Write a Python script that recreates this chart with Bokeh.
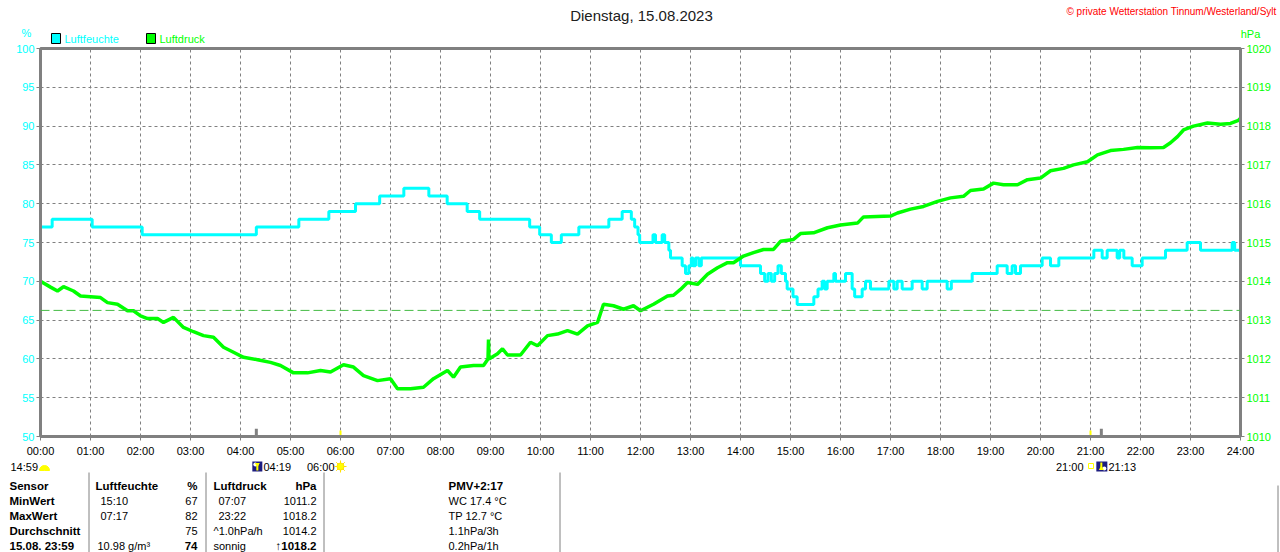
from bokeh.plotting import figure
from bokeh.models import Range1d, LinearAxis, FixedTicker, Span
from bokeh.layouts import column
from bokeh.core.properties import value
from bokeh.embed import file_html
from bokeh.resources import INLINE

# ---------------- data ----------------
title_text = "Dienstag, 15.08.2023"
copyright_text = "\u00a9 private Wetterstation Tinnum/Westerland/Sylt"
legend_labels = ["Luftfeuchte", "Luftdruck"]
unit_left = "%"
unit_right = "hPa"

hour_ticks = list(range(25))
hour_labels = ["%02d:00" % h for h in hour_ticks]
hum_ticks = [50, 55, 60, 65, 70, 75, 80, 85, 90, 95, 100]
pres_ticks = [1010, 1011, 1012, 1013, 1014, 1015, 1016, 1017, 1018, 1019, 1020]

hum_time = ["00:00", "00:14", "01:02", "02:02", "04:19", "05:10", "05:46", "06:18", "06:47", "07:16",
            "07:46", "08:08", "08:32", "08:47", "09:47", "09:59", "10:13", "10:25", "10:46", "11:22",
            "11:38", "11:49", "11:53", "11:57", "11:59", "12:15", "12:18", "12:26", "12:29", "12:34",
            "12:36", "12:50", "12:54", "12:58", "13:01", "13:03", "13:06", "13:10", "13:13", "14:00",
            "14:24", "14:29", "14:33", "14:37", "14:41", "14:45", "14:49", "14:54", "14:56", "15:03",
            "15:08", "15:28", "15:33", "15:38", "15:41", "15:44", "15:52", "15:54", "16:06", "16:14",
            "16:17", "16:26", "16:30", "16:36", "16:58", "17:04", "17:08", "17:14", "17:26", "17:38",
            "17:44", "18:08", "18:13", "18:38", "19:08", "19:20", "19:26", "19:30", "19:36", "20:02",
            "20:12", "20:22", "21:04", "21:14", "21:20", "21:32", "21:35", "21:40", "21:50", "22:02",
            "22:30", "22:56", "23:12", "23:50", "23:53"]
hum_value = [77, 78, 77, 76, 77, 78, 79, 80, 81, 82,
             81, 80, 79, 78, 77, 76, 75, 76, 77, 78,
             79, 78, 77, 76, 75, 76, 75, 76, 75, 74,
             73, 72, 71, 72, 73, 72, 73, 72, 73, 72,
             71, 70, 71, 70, 71, 72, 71, 70, 69, 68,
             67, 68, 69, 70, 69, 70, 71, 70, 71, 69,
             68, 69, 70, 69, 70, 69, 70, 69, 70, 69,
             70, 69, 70, 71, 72, 71, 72, 71, 72, 73,
             72, 73, 74, 73, 74, 73, 74, 73, 72, 73,
             74, 75, 74, 75, 74]

pres_time = [0.0, 0.2, 0.34, 0.46, 0.66, 0.8, 1.0, 1.2, 1.34, 1.54, 1.74, 1.86, 2.0, 2.14, 2.34, 2.46,
             2.66, 2.86, 3.06, 3.26, 3.46, 3.66, 3.86, 4.06, 4.34, 4.6, 4.8, 5.06, 5.34, 5.6, 5.8, 6.06,
             6.26, 6.46, 6.74, 7.0, 7.14, 7.4, 7.66, 7.86, 8.14, 8.26, 8.4, 8.66, 8.86, 8.95, 8.96, 8.97,
             9.14, 9.24, 9.34, 9.6, 9.8, 9.94, 10.14, 10.34, 10.54, 10.74, 10.94, 11.14, 11.26, 11.46,
             11.66, 11.86, 12.0, 12.26, 12.54, 12.66, 12.8, 12.94, 13.14, 13.34, 13.54, 13.74, 13.86,
             14.06, 14.26, 14.46, 14.66, 14.8, 15.06, 15.2, 15.46, 15.74, 16.0, 16.34, 16.46, 17.0,
             17.14, 17.4, 17.66, 17.94, 18.2, 18.46, 18.6, 18.86, 19.06, 19.26, 19.54, 19.74, 20.0,
             20.2, 20.46, 20.66, 20.94, 21.14, 21.4, 21.66, 21.94, 22.2, 22.46, 22.6, 22.74, 22.86,
             23.06, 23.34, 23.6, 23.8, 23.96, 24.0]
pres_value = [1014.0, 1013.85, 1013.75, 1013.86, 1013.75, 1013.62, 1013.6, 1013.58, 1013.45, 1013.41,
              1013.24, 1013.24, 1013.11, 1013.04, 1013.04, 1012.94, 1013.07, 1012.81, 1012.70, 1012.60,
              1012.56, 1012.30, 1012.17, 1012.04, 1011.98, 1011.91, 1011.83, 1011.64, 1011.64, 1011.70,
              1011.66, 1011.85, 1011.79, 1011.57, 1011.44, 1011.49, 1011.23, 1011.23, 1011.27, 1011.49,
              1011.70, 1011.53, 1011.79, 1011.83, 1011.83, 1012.0, 1012.5, 1012.0, 1012.13, 1012.26,
              1012.1, 1012.1, 1012.43, 1012.34, 1012.60, 1012.64, 1012.73, 1012.64, 1012.85, 1012.94,
              1013.41, 1013.37, 1013.28, 1013.37, 1013.24, 1013.41, 1013.62, 1013.64, 1013.79, 1013.97,
              1013.92, 1014.18, 1014.35, 1014.48, 1014.48, 1014.65, 1014.74, 1014.82, 1014.82, 1015.03,
              1015.08, 1015.23, 1015.25, 1015.38, 1015.45, 1015.50, 1015.66, 1015.68, 1015.76, 1015.86,
              1015.93, 1016.06, 1016.15, 1016.19, 1016.34, 1016.38, 1016.53, 1016.49, 1016.49, 1016.62,
              1016.66, 1016.85, 1016.91, 1017.0, 1017.08, 1017.26, 1017.37, 1017.40, 1017.45, 1017.44,
              1017.45, 1017.57, 1017.73, 1017.90, 1018.0, 1018.08, 1018.05, 1018.07, 1018.15, 1018.2]
ref_pressure = 1013.25

moonrise = "04:19"
sunrise = "06:00"
sunset = "21:00"
moonset = "21:13"
prev_event = "14:59"

table_rows = [
    ["Sensor", "Luftfeuchte", "%", "Luftdruck", "hPa", "PMV+2:17"],
    ["MinWert", "15:10", "67", "07:07", "1011.2", "WC 17.4 \u00b0C"],
    ["MaxWert", "07:17", "82", "23:22", "1018.2", "TP 12.7 \u00b0C"],
    ["Durchschnitt", "", "75", "^1.0hPa/h", "1014.2", "1.1hPa/3h"],
    ["15.08. 23:59", "10.98 g/m\u00b3", "74", "sonnig", "\u21911018.2", "0.2hPa/1h"],
]

# ---------------- styles ----------------
CYAN = "#00FFFF"
GREEN = "#00FF00"
GRAY = "#808080"
YELLOW = "#FFFF00"
NAVY = "#1C1C80"
FONT = "Liberation Sans"
W = 1280


def hhmm(s):
    h, m = s.split(":")
    return int(h) + int(m) / 60.0


def panel(height, top):
    f = figure(width=W, height=height, output_backend="svg", toolbar_location=None,
               x_range=Range1d(0, W), y_range=Range1d(top + height, top),
               x_axis_type=None, y_axis_type=None, frame_align=False,
               min_border_left=0, min_border_right=0, min_border_top=0, min_border_bottom=0,
               background_fill_color="white", border_fill_color="white")
    f.outline_line_color = None
    f.grid.visible = False
    f.title.visible = False
    return f


def txt(f, s, x, y, color="black", size="11px", bold=False, align="left", font=FONT):
    f.text(x=[x], y=[y], text=[s], text_color=color, text_font=value(font),
           text_font_size=value(size), text_font_style="bold" if bold else "normal",
           text_align=align, text_baseline="middle")


# ---------------- top strip (page y 0..44) ----------------
top = panel(44, 0)
txt(top, title_text, 641, 15, color="#202020", size="15px", align="center")
txt(top, copyright_text, 1276, 11, color="#FF0000", size="10px", align="right")
txt(top, unit_left, 26, 32, color=CYAN, align="center")
txt(top, unit_right, 1250, 33, color=GREEN, align="center")
top.quad(left=[51, 146], right=[60, 155], top=[33, 33], bottom=[43, 43],
         fill_color=[CYAN, GREEN], line_color="black", line_width=1)
txt(top, legend_labels[0], 64, 38, color=CYAN)
txt(top, legend_labels[1], 159, 38, color=GREEN)

# ---------------- main chart (page y 44..459, frame 48..438) ----------------
p = figure(width=W, height=415, output_backend="svg", toolbar_location=None,
           x_range=Range1d(0, 24), y_range=Range1d(50, 100), frame_align=False,
           min_border_left=40, min_border_right=40, min_border_top=4, min_border_bottom=21,
           background_fill_color="white", border_fill_color="white")
p.title.visible = False
p.extra_y_ranges = {"p": Range1d(1010, 1020)}
p.outline_line_color = GRAY
p.outline_line_width = 3

p.xaxis.ticker = FixedTicker(ticks=hour_ticks)
p.xaxis.major_label_overrides = {h: lab for h, lab in zip(hour_ticks, hour_labels)}
p.yaxis.ticker = FixedTicker(ticks=hum_ticks)
for ax in [p.xaxis[0], p.yaxis[0]]:
    ax.axis_line_color = GRAY
    ax.axis_line_width = 3
    ax.major_tick_line_color = GRAY
    ax.major_tick_in = 0
    ax.major_tick_out = 4
    ax.minor_tick_line_color = None
    ax.major_label_text_font = FONT
    ax.major_label_text_font_size = "11px"
p.xaxis.major_label_text_color = "black"
p.xaxis.major_label_standoff = 4
p.yaxis.major_label_text_color = CYAN
p.yaxis.major_label_standoff = 2

right = LinearAxis(y_range_name="p", ticker=FixedTicker(ticks=pres_ticks))
right.axis_line_color = GRAY
right.axis_line_width = 3
right.major_tick_line_color = GRAY
right.major_tick_in = 0
right.major_tick_out = 4
right.minor_tick_line_color = None
right.major_label_text_color = GREEN
right.major_label_text_font = FONT
right.major_label_text_font_size = "11px"
right.major_label_standoff = 2
p.add_layout(right, "right")

p.xgrid.ticker = FixedTicker(ticks=hour_ticks)
p.ygrid.ticker = FixedTicker(ticks=hum_ticks)
for g in [p.xgrid[0], p.ygrid[0]]:
    g.grid_line_color = GRAY
    g.grid_line_dash = "3 3"
    g.grid_line_width = 1

p.add_layout(Span(location=ref_pressure, dimension="width", y_range_name="p",
                  line_color="#44BB44", line_width=1, line_dash="9 4"))

hx_vals = [hhmm(t) for t in hum_time] + [24.0]
hy_vals = hum_value + [hum_value[-1]]
p.step(hx_vals, hy_vals, mode="after", line_color=CYAN, line_width=3)
p.line(pres_time, pres_value, y_range_name="p", line_color=GREEN, line_width=3.5)

# astro markers at the bottom edge of the frame
p.segment(x0=[hhmm(moonrise), hhmm(moonset)], x1=[hhmm(moonrise), hhmm(moonset)],
          y0=[51.0, 51.0], y1=[50, 50], line_color=GRAY, line_width=3)
p.segment(x0=[hhmm(sunrise), hhmm(sunset)], x1=[hhmm(sunrise), hhmm(sunset)],
          y0=[50.77, 50.77], y1=[50, 50], line_color=YELLOW, line_width=2)

# ---------------- bottom strip (page y 459..552) ----------------
b = panel(93, 459)


def tx(t):
    return 40 + hhmm(t) * 50


# astro row
txt(b, prev_event, 10, 466)
b.wedge(x=[44], y=[470], radius=5, start_angle=0, end_angle=3.14159, fill_color=YELLOW,
        line_color=YELLOW)
b.quad(left=[tx(moonrise) - 4, tx(moonset) - 5], right=[tx(moonrise) + 6, tx(moonset) + 6],
       top=[461, 461], bottom=[471, 471], fill_color=NAVY, line_color=None)
b.scatter(x=[tx(moonrise) - 1, tx(moonset) + 3], y=[464, 468], size=4, fill_color="white",
          line_color=None)
b.segment(x0=[tx(moonrise) + 1, tx(moonset)], x1=[tx(moonrise) + 1, tx(moonset)],
          y0=[470, 462], y1=[463, 469], line_color=YELLOW, line_width=2)
b.scatter(x=[tx(moonrise) + 1, tx(moonset)], y=[464, 468], marker="triangle", size=5,
          angle=[3.14159, 0], fill_color=YELLOW, line_color=None)
txt(b, moonrise, 263, 466)
txt(b, sunrise, 334, 466, align="right")
b.scatter(x=[tx(sunrise)], y=[466], marker="asterisk", size=12, line_color="#FFE000", line_width=1)
b.scatter(x=[tx(sunrise)], y=[466], marker="circle", size=7, fill_color=YELLOW, line_color="#FFE000")
txt(b, sunset, 1083, 466, align="right")
b.quad(left=[1088], right=[1093], top=[463], bottom=[468], fill_color=None, line_color=YELLOW)
txt(b, moonset, 1108, 466)

# table separators
b.segment(x0=[88.5, 205.5, 323.5, 559.5, 1277.5], x1=[88.5, 205.5, 323.5, 559.5, 1277.5],
          y0=[472, 472, 472, 472, 485], y1=[552, 552, 552, 552, 552], line_color=GRAY, line_width=1)

# table
row_y = [485, 500, 515, 530, 545]
for i, row in enumerate(table_rows):
    y = row_y[i]
    head = i == 0
    big = head or i == 4
    txt(b, row[0], 9, y, size="11.5px", bold=True)
    if row[1]:
        txt(b, row[1], 95 if head else (97 if i == 4 else 100), y, size="11.5px" if head else "11px", bold=head)
    txt(b, row[2], 197, y, size="11.5px" if big else "11px", bold=big, align="right")
    txt(b, row[3], 213 if (head or i >= 3) else 218, y, size="11.5px" if head else "11px", bold=head)
    txt(b, row[4], 316, y, size="11.5px" if big else "11px", bold=big, align="right")
    txt(b, row[5], 448, y, size="11.5px" if head else "11px", bold=head)

layout = column(top, p, b, spacing=0)
open("out.html", "w").write(file_html(layout, INLINE))
